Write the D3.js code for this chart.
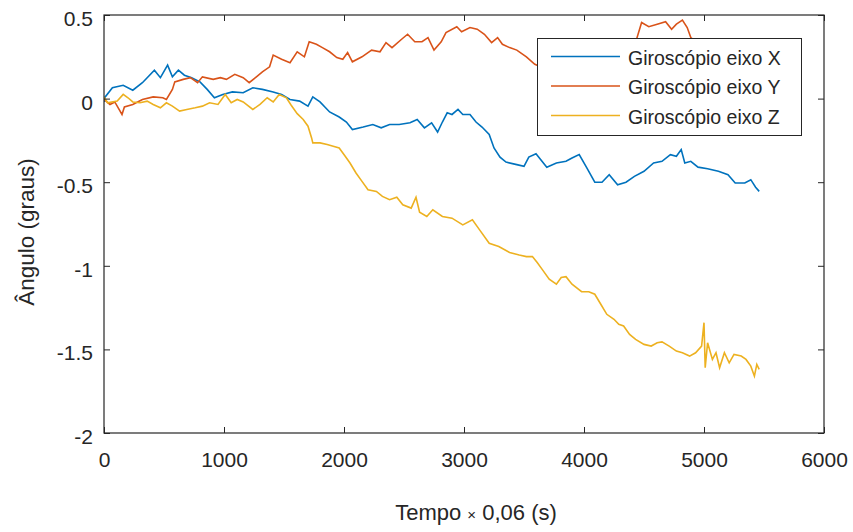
<!DOCTYPE html>
<html>
<head>
<meta charset="utf-8">
<script src="https://cdn.jsdelivr.net/npm/d3@7"></script>
<style>
  html, body { margin: 0; padding: 0; background: #fff; }
  svg { display: block; }
  text { font-family: "Liberation Sans", Arial, Helvetica, sans-serif; fill: #262626; }
</style>
</head>
<body>
<svg id="chart" width="853" height="532"></svg>
<script>
// ---- data ----
const seriesNames = ["Giroscópio eixo X", "Giroscópio eixo Y", "Giroscópio eixo Z"];
const seriesColors = ["#0072BD", "#D95319", "#EDB120"];

const xTicks = [0, 1000, 2000, 3000, 4000, 5000, 6000];
const yTicks = [0.5, 0, -0.5, -1, -1.5, -2];

const xGyroX = [0,10,70,160,240,320,420,470,530,570,620,670,730,800,860,920,990,1070,1160,1240,1320,1410,1480,1550,1630,1700,1740,1800,1880,1960,2020,2070,2160,2240,2310,2380,2460,2550,2610,2670,2730,2780,2820,2860,2900,2950,2990,3050,3100,3150,3210,3250,3300,3350,3440,3500,3540,3600,3690,3770,3850,3900,3960,4020,4090,4150,4210,4280,4350,4420,4500,4580,4650,4720,4770,4810,4840,4890,4950,5030,5120,5200,5260,5340,5390,5430,5460];
const yGyroX = [-0.02,0.01,0.065,0.08,0.05,0.095,0.17,0.125,0.2,0.13,0.17,0.14,0.125,0.10,0.055,0.005,0.025,0.04,0.035,0.065,0.055,0.04,0.025,-0.005,-0.015,-0.045,0.01,-0.02,-0.08,-0.11,-0.14,-0.185,-0.17,-0.155,-0.175,-0.155,-0.155,-0.145,-0.125,-0.175,-0.145,-0.2,-0.14,-0.085,-0.095,-0.065,-0.095,-0.095,-0.14,-0.17,-0.215,-0.295,-0.35,-0.38,-0.395,-0.405,-0.35,-0.33,-0.41,-0.385,-0.375,-0.355,-0.335,-0.41,-0.5,-0.5,-0.455,-0.515,-0.5,-0.465,-0.435,-0.385,-0.375,-0.335,-0.345,-0.305,-0.385,-0.375,-0.41,-0.42,-0.435,-0.455,-0.505,-0.505,-0.485,-0.53,-0.555];

const xGyroY = [0,50,90,150,170,240,320,410,490,520,570,590,660,720,780,820,910,970,1020,1090,1160,1210,1270,1320,1380,1410,1480,1550,1610,1670,1710,1770,1820,1880,1940,1990,2030,2070,2150,2230,2300,2350,2400,2480,2530,2590,2650,2700,2750,2810,2850,2940,2980,3050,3110,3170,3230,3280,3320,3380,3440,3520,3590,3710,3880,4040,4210,4380,4440,4480,4540,4610,4680,4730,4770,4820,4860,4890,5000,5130,5290,5460];
const yGyroY = [-0.005,-0.035,-0.02,-0.095,-0.05,-0.035,-0.005,0.01,0.005,-0.005,0.055,0.1,0.115,0.125,0.095,0.13,0.115,0.125,0.115,0.145,0.125,0.095,0.13,0.16,0.19,0.26,0.235,0.215,0.28,0.25,0.34,0.325,0.305,0.28,0.245,0.235,0.275,0.22,0.25,0.29,0.28,0.335,0.305,0.355,0.385,0.34,0.34,0.365,0.29,0.34,0.395,0.43,0.4,0.425,0.415,0.385,0.335,0.365,0.325,0.305,0.29,0.25,0.205,0.17,0.15,0.2,0.25,0.3,0.36,0.455,0.43,0.445,0.46,0.415,0.445,0.47,0.425,0.365,0.3,0.28,0.25,0.22];

const xGyroZ = [0,30,110,160,200,240,300,360,410,470,520,570,630,690,760,820,880,950,1010,1060,1110,1160,1240,1300,1360,1410,1460,1520,1560,1610,1660,1700,1730,1740,1800,1860,1910,1960,2010,2050,2100,2150,2200,2270,2320,2380,2440,2490,2560,2600,2630,2690,2740,2820,2900,2990,3070,3130,3210,3290,3380,3460,3520,3570,3610,3650,3710,3770,3810,3850,3900,3980,4040,4090,4140,4190,4250,4290,4330,4380,4430,4500,4560,4610,4650,4710,4770,4820,4880,4930,4980,5000,5010,5030,5070,5100,5130,5170,5210,5250,5310,5350,5390,5420,5440,5460];
const yGyroZ = [0.01,-0.025,-0.015,0.025,0.005,-0.02,-0.025,-0.015,-0.035,-0.055,-0.025,-0.045,-0.075,-0.065,-0.055,-0.045,-0.025,-0.035,0.025,-0.025,-0.005,-0.02,-0.065,-0.035,0.005,-0.02,0.025,0.005,-0.04,-0.09,-0.125,-0.165,-0.235,-0.265,-0.265,-0.275,-0.285,-0.295,-0.345,-0.385,-0.445,-0.495,-0.545,-0.555,-0.585,-0.605,-0.59,-0.635,-0.655,-0.59,-0.68,-0.705,-0.665,-0.705,-0.715,-0.755,-0.725,-0.785,-0.865,-0.885,-0.92,-0.935,-0.945,-0.945,-0.98,-1.02,-1.08,-1.11,-1.07,-1.065,-1.11,-1.155,-1.155,-1.17,-1.23,-1.29,-1.32,-1.35,-1.36,-1.41,-1.44,-1.47,-1.48,-1.46,-1.455,-1.48,-1.51,-1.52,-1.54,-1.52,-1.48,-1.34,-1.61,-1.46,-1.56,-1.52,-1.61,-1.52,-1.58,-1.53,-1.54,-1.56,-1.6,-1.66,-1.59,-1.62];

const xLabel = "Tempo × 0,06 (s)";
const yLabel = "Ângulo (graus)";

// ---- layout ----
const svg = d3.select("#chart");
const pL = 104, pR = 824, pT = 15, pB = 433;
const axisColor = "#262626";

const x = d3.scaleLinear().domain([0, 6000]).range([pL, pR]);
const y = d3.scaleLinear().domain([-2, 0.5]).range([pB, pT]);

const series = [
  { xs: xGyroX, ys: yGyroX },
  { xs: xGyroY, ys: yGyroY },
  { xs: xGyroZ, ys: yGyroZ }
];

svg.append("defs").append("clipPath").attr("id", "plotclip")
  .append("rect").attr("x", pL).attr("y", pT).attr("width", pR - pL).attr("height", pB - pT);

const line = d3.line().x(d => x(d[0])).y(d => y(d[1]));

const plot = svg.append("g").attr("clip-path", "url(#plotclip)");
series.forEach((s, i) => {
  const pts = s.xs.map((v, j) => [v, s.ys[j]]);
  plot.append("path")
    .datum(pts)
    .attr("fill", "none")
    .attr("stroke", seriesColors[i])
    .attr("stroke-width", 1.6)
    .attr("stroke-linejoin", "miter")
    .attr("d", line);
});

// ---- axes (box with inward ticks) ----
const fontSize = 21;
const tickLen = 6;

const gBottom = svg.append("g").attr("transform", `translate(0,${pB})`)
  .call(d3.axisBottom(x).tickValues(xTicks).tickSizeInner(-tickLen).tickSizeOuter(0).tickPadding(0).tickFormat(d3.format("d")));
gBottom.selectAll("text").attr("y", 34).attr("dy", null).style("font-size", fontSize + "px");

const gTop = svg.append("g").attr("transform", `translate(0,${pT})`)
  .call(d3.axisTop(x).tickValues(xTicks).tickSizeInner(-tickLen).tickSizeOuter(0).tickFormat(""));

const gLeft = svg.append("g").attr("transform", `translate(${pL},0)`)
  .call(d3.axisLeft(y).tickValues(yTicks).tickSizeInner(-tickLen).tickSizeOuter(0).tickFormat(d => String(d)));
gLeft.selectAll("text").attr("x", -11).attr("dy", null).attr("y", 10.5).style("font-size", fontSize + "px");

const gRight = svg.append("g").attr("transform", `translate(${pR},0)`)
  .call(d3.axisRight(y).tickValues(yTicks).tickSizeInner(-tickLen).tickSizeOuter(0).tickFormat(""));

[gBottom, gTop, gLeft, gRight].forEach(g => {
  g.select(".domain").remove();
  g.selectAll("line").attr("stroke", axisColor);
  g.selectAll("text").attr("fill", axisColor).style("font-family", '"Liberation Sans", Arial, sans-serif');
});

svg.append("rect")
  .attr("x", pL).attr("y", pT).attr("width", pR - pL).attr("height", pB - pT)
  .attr("fill", "none").attr("stroke", axisColor).attr("stroke-width", 1.2);

// ---- axis labels ----
const xl = svg.append("text")
  .attr("x", 476).attr("y", 520).attr("text-anchor", "middle")
  .style("font-size", "22px");
xl.append("tspan").text("Tempo ");
xl.append("tspan").style("font-size", "15px").text("×");
xl.append("tspan").text(" 0,06 (s)");

svg.append("text")
  .attr("transform", "translate(34,232) rotate(-90)")
  .attr("text-anchor", "middle")
  .style("font-size", "22.5px")
  .text(yLabel);

// ---- legend ----
const lg = svg.append("g");
lg.append("rect").attr("x", 537.5).attr("y", 38.5).attr("width", 264).attr("height", 97)
  .attr("fill", "#fff").attr("stroke", axisColor).attr("stroke-width", 1);
seriesNames.forEach((name, i) => {
  const cy = 56.5 + i * 29.5;
  lg.append("line").attr("x1", 551).attr("x2", 620).attr("y1", cy).attr("y2", cy)
    .attr("stroke", seriesColors[i]).attr("stroke-width", 1.5);
  lg.append("text").attr("x", 628).attr("y", cy + 8).style("font-size", "19.5px").text(name);
});
</script>
</body>
</html>
